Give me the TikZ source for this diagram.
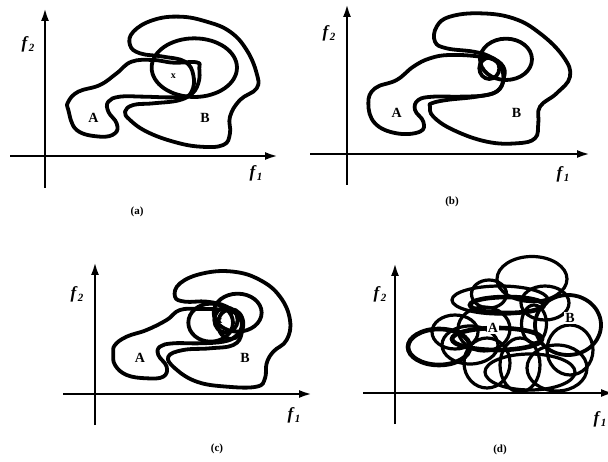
\documentclass[tikz,border=0pt]{standalone}
\usepackage{fontspec}
\setmainfont{Liberation Serif}
\usetikzlibrary{arrows.meta}
\newcommand{\flab}[2]{\fontsize{17}{17}\selectfont\textbf{\textit{#1}}\kern0.3pt\raisebox{-3.5pt}{\fontsize{11}{11}\selectfont\textbf{\textit{#2}}}}
\begin{document}
\begin{tikzpicture}[x=1pt,y=-1pt,
  blob/.style={line width=3.8pt, line join=round},
  thinblob/.style={line width=3.2pt},
  thickblob/.style={line width=4.6pt},
  axisline/.style={line width=2.4pt},
  axisarrow/.style={line width=2.4pt, -{Latex[length=13pt,width=8pt]}},
  lbl/.style={font=\bfseries\fontsize{14}{14}\selectfont, inner sep=0pt},
  xlbl/.style={font=\bfseries\fontsize{10}{10}\selectfont, inner sep=0pt},
  axlbl/.style={inner sep=0pt},
  captxt/.style={font=\bfseries\fontsize{11}{11}\selectfont, inner sep=0pt},
  pl/.style={smooth cycle, tension=0.7}
]
\fill[white] (0,0) rectangle (608,462);
\clip (0,0) rectangle (608,462);

% ===================== (a) =====================
\coordinate (a0) at (45,156);
\coordinate (ayb) at (45,188);
\coordinate (ayt) at (45,8);
\coordinate (axl) at (10,156);
\coordinate (axr) at (278,156);
\draw[axisline] (ayb) -- (a0);
\draw[axisarrow] (a0) -- (ayt);
\draw[axisarrow] (axl) -- (axr);
\node[axlbl] (af2) at (28,44) {\flab{f}{2}};
\node[axlbl] (af1) at (256,173) {\flab{f}{1}};
\node[captxt] (acap) at (137,212) {(a)};
\begin{scope}[shift={(0,0)},scale=0.3333]
\draw[blob] plot[pl] coordinates {(205,330) (230,390) (300,410) (345,400) (350,370) (325,335) (325,305) (360,290) (430,290) (520,292) (570,285) (595,250) (598,205) (590,187) (520,188) (460,180) (395,185) (350,220) (300,255) (235,275) (205,305)};
\draw[blob] plot[pl] coordinates {(375,335) (390,360) (440,395) (520,425) (600,440) (670,435) (690,400) (690,350) (720,300) (770,265) (770,220) (740,150) (690,95) (620,65) (540,50) (460,60) (400,95) (390,135) (420,160) (490,170) (555,185) (580,225) (575,275) (540,300) (460,310) (400,315)};
\draw[blob] (583,203) ellipse [x radius=128, y radius=88];
\node[lbl] (aA) at (280,355) {A};
\node[lbl] (aB) at (615,355) {B};
\node[xlbl] (ax) at (520,228) {x};
\end{scope}

% ===================== (b) =====================
\coordinate (b0) at (347,154);
\coordinate (byb) at (347,185);
\coordinate (byt) at (347,4);
\coordinate (bxl) at (310,154);
\coordinate (bxr) at (590,154);
\draw[axisline] (byb) -- (b0);
\draw[axisarrow] (b0) -- (byt);
\draw[axisarrow] (bxl) -- (bxr);
\node[axlbl] (bf2) at (329,33) {\flab{f}{2}};
\node[axlbl] (bf1) at (563,174) {\flab{f}{1}};
\node[captxt] (bcap) at (452,202) {(b)};
\begin{scope}[shift={(300,0)},scale=0.3333]
\draw[blob] plot[pl] coordinates {(205,310) (225,370) (290,400) (360,395) (370,365) (345,330) (355,300) (400,290) (480,290) (560,285) (600,265) (610,225) (590,185) (540,170) (450,165) (390,175) (340,200) (290,240) (225,265)};
\draw[blob] plot[pl] coordinates {(390,320) (400,350) (460,390) (560,425) (650,430) (705,415) (715,370) (720,320) (770,280) (810,230) (790,170) (720,100) (640,55) (540,40) (450,50) (410,80) (405,125) (440,145) (520,155) (570,170) (610,200) (610,240) (590,275) (530,290) (440,300) (395,310)};
\draw[blob] (618,178) ellipse [x radius=78, y radius=62];
\draw[blob] (568,205) ellipse [x radius=30, y radius=32];
\node[lbl] (bA) at (290,340) {A};
\node[lbl] (bB) at (650,340) {B};
\node[xlbl] (bx) at (548,210) {x};
\end{scope}

% ===================== (c) =====================
\coordinate (c0) at (95,394);
\coordinate (cyb) at (95,425);
\coordinate (cyt) at (95,262);
\coordinate (cxl) at (63,394);
\coordinate (cxr) at (312,394);
\draw[axisline] (cyb) -- (c0);
\draw[axisarrow] (c0) -- (cyt);
\draw[axisarrow] (cxl) -- (cxr);
\node[axlbl] (cf2) at (77,294) {\flab{f}{2}};
\node[axlbl] (cf1) at (294,415) {\flab{f}{1}};
\node[captxt] (ccap) at (217,449) {(c)};
\begin{scope}[shift={(60,240)},scale=0.3333]
\draw[blob] plot[pl] coordinates {(160,340) (165,375) (200,405) (260,415) (310,410) (320,380) (295,345) (300,320) (340,310) (420,310) (490,305) (525,290) (545,260) (535,225) (490,210) (420,207) (360,210) (320,240) (260,270) (200,290) (165,315)};
\draw[blob] plot[pl] coordinates {(325,350) (345,385) (410,425) (500,440) (590,440) (615,415) (620,370) (640,335) (680,300) (690,240) (660,170) (600,120) (520,95) (430,100) (360,130) (345,170) (375,185) (440,185) (500,200) (540,235) (545,280) (520,315) (450,325) (370,330)};
\draw[blob] (452,248) ellipse [x radius=67, y radius=57];
\draw[blob] (533,218) ellipse [x radius=72, y radius=57];
\draw[blob] (498,240) ellipse [x radius=35, y radius=38];
\draw[blob] (512,252) ellipse [x radius=38, y radius=45];
\node[lbl] (cA) at (240,355) {A};
\node[lbl] (cB) at (555,355) {B};
\node[xlbl] (cx) at (480,245) {x};
\end{scope}

% ===================== (d) =====================
\coordinate (d0) at (395,393);
\coordinate (dyb) at (395,424);
\coordinate (dyt) at (395,263);
\coordinate (dxl) at (363,393);
\coordinate (dxr) at (614,393);
\draw[axisline] (dyb) -- (d0);
\draw[axisarrow] (d0) -- (dyt);
\draw[axisarrow] (dxl) -- (dxr);
\node[axlbl] (df2) at (380,294) {\flab{f}{2}};
\node[axlbl] (df1) at (600,419) {\flab{f}{1}};
\node[captxt] (dcap) at (500,450) {(d)};
% cloud of ellipses, pixel coordinates
\draw[thickblob] (439,347) ellipse [x radius=31, y radius=18];
\draw[thinblob] (455,332) ellipse [x radius=23, y radius=17];
\draw[thinblob] (470,345) ellipse [x radius=28, y radius=19];
\draw[thinblob] (484,329) ellipse [x radius=26, y radius=22];
\draw[thinblob] (489,294) ellipse [x radius=17.5, y radius=14];
\draw[thinblob] (532,279) ellipse [x radius=35, y radius=22.5];
\draw[blob] (568,325) ellipse [x radius=33, y radius=30];
\draw[thinblob] (534,324) ellipse [x radius=12.5, y radius=19];
\draw[thinblob] (545,303) ellipse [x radius=24, y radius=17];
\draw[thinblob] (487,363) ellipse [x radius=23, y radius=25];
\draw[thinblob] (520,365) ellipse [x radius=20, y radius=27];
\draw[thinblob] (557,368) ellipse [x radius=30, y radius=23];
\draw[thinblob] (570,350) ellipse [x radius=23, y radius=25];
\draw[thinblob] (530,372) ellipse [x radius=45, y radius=18];
\draw[thickblob] (497,339) ellipse [x radius=45, y radius=11];
\draw[thickblob] (507,305) ellipse [x radius=37, y radius=8];
\draw[thinblob] (500,300) ellipse [x radius=48, y radius=14];
\node[lbl,fill=white,inner sep=1pt] (dA) at (493,328) {A};
\node[lbl,fill=white,inner sep=1pt] (dB) at (570,318) {B};
\end{tikzpicture}
\end{document}
